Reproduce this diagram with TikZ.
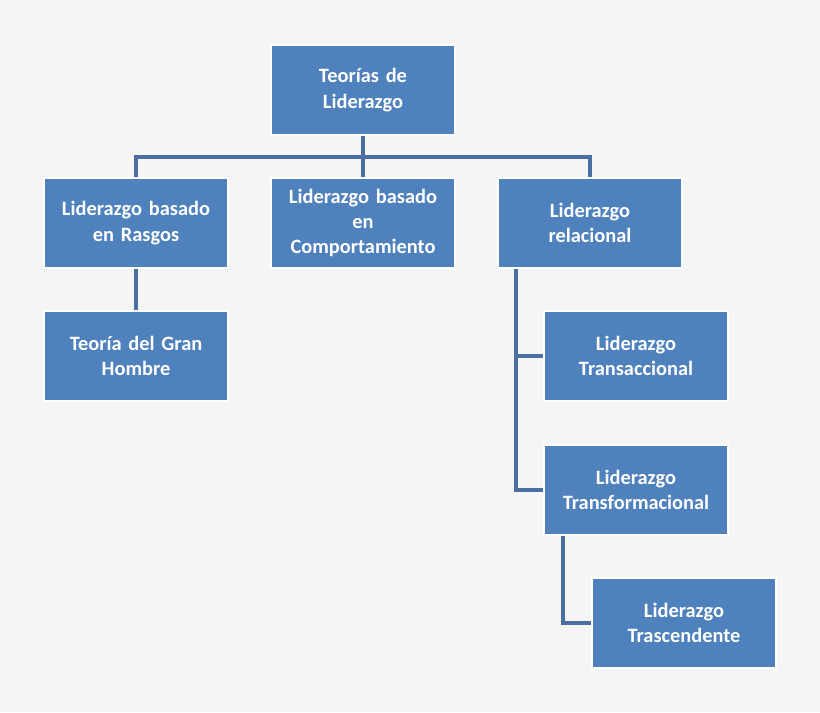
\documentclass[tikz,border=0pt]{standalone}
\usepackage{fontspec}
\setmainfont{Carlito}
\definecolor{boxblue}{HTML}{4F81BD}
\definecolor{lineblue}{HTML}{4A6FA0}
\definecolor{bggray}{HTML}{F5F5F5}
\tikzset{
    box/.style={draw=white,line width=0.6mm,fill=boxblue,text=white,font=\bfseries\fontsize{14.5}{18}\selectfont,
        minimum width=4.6cm,minimum height=2.25cm,align=center,text width=4.3cm},
    link/.style={lineblue,line width=1.1mm}
}
\begin{document}
\begin{tikzpicture}[x=0.025cm,y=-0.025cm]
    \fill[bggray] (0,0) rectangle (820,712);
    \node[box] (teorias) at (363,90) {Teorías de\\Liderazgo};
    \node[box] (rasgos) at (136,223) {Liderazgo basado\\en Rasgos};
    \node[box] (comport) at (363,223) {Liderazgo basado\\en\\Comportamiento};
    \node[box] (relacional) at (590,223) {Liderazgo\\relacional};
    \node[box] (hombre) at (136,356) {Teoría del Gran\\Hombre};
    \node[box] (transacc) at (636,356) {Liderazgo\\Transaccional};
    \node[box] (transform) at (636,490) {Liderazgo\\Transformacional};
    \node[box] (trasc) at (684,623) {Liderazgo\\Trascendente};
    % connectors
    \coordinate (bus) at (363,157);
    \draw[link] (teorias.south) -- (bus);
    \draw[link] (rasgos.north) |- (bus) -| (relacional.north);
    \draw[link] (bus) -- (comport.north);
    \draw[link] (rasgos.south) -- (hombre.north);
    \draw[link] ([xshift=-74*0.025cm]relacional.south) |- (transform.west);
    \draw[link] ([xshift=-74*0.025cm]relacional.south |- transacc.west) -- (transacc.west);
    \draw[link] ([xshift=-73*0.025cm]transform.south) |- (trasc.west);
\end{tikzpicture}
\end{document}
